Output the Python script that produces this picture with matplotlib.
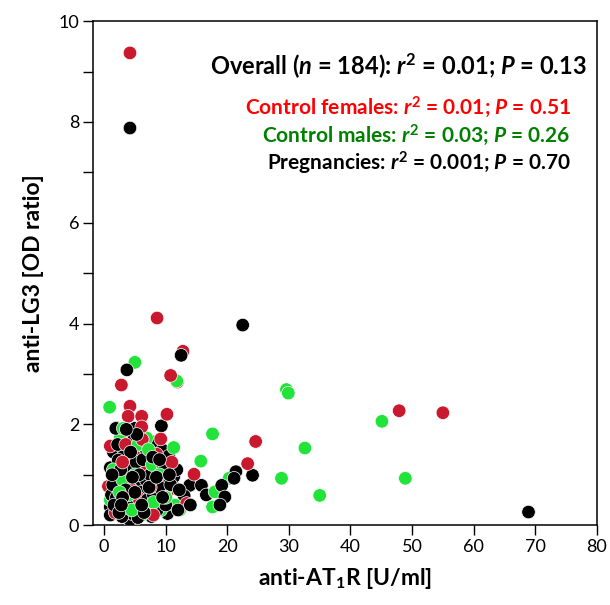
# -*- coding:utf-8 -*-
import matplotlib
matplotlib.use('Agg')
import matplotlib.pyplot as plt

plt.rcParams['font.family'] = ['Lato', 'DejaVu Sans']
plt.rcParams['mathtext.fontset'] = 'custom'
plt.rcParams['mathtext.rm'] = 'Lato:bold'
plt.rcParams['mathtext.it'] = 'Lato:bold:italic'
plt.rcParams['mathtext.bf'] = 'Lato:bold'

# control females
fem_x = [11.9, 12.8, 4.2, 8.6, 10.8, 2.8, 4.2, 3.9, 6.1, 10.2, 6.1, 9.2, 1.0, 8.5, 5.6,
         3.9, 0.7, 3.1, 8.3, 10.2, 9.9, 13.4, 14.6, 23.3, 24.6, 47.9, 55.0,
         2.5, 4.8, 7.0, 5.5, 2.2, 6.8, 9.5, 3.5, 7.5, 1.8, 4.5, 8.0, 11.0, 6.2, 3.0]
fem_y = [2.84, 3.45, 9.37, 4.11, 2.97, 2.78, 2.36, 2.16, 2.16, 2.20, 1.95, 1.71, 1.57, 1.41, 1.22,
         0.93, 0.77, 0.33, 0.50, 0.66, 0.69, 0.43, 1.01, 1.22, 1.66, 2.27, 2.23,
         1.05, 1.40, 1.10, 0.55, 0.45, 0.30, 1.20, 1.60, 0.75, 0.25, 0.70, 0.20, 1.25, 1.70, 1.25]

# control males
male_x = [5.0, 11.8, 0.9, 3.4, 2.6, 6.9, 3.2, 11.3, 15.7, 17.6, 20.3, 18.0, 17.6, 12.3,
          11.5, 9.2, 6.1, 6.6, 6.6, 8.8, 1.0, 29.6, 29.9, 45.1, 32.6, 28.8, 48.9, 35.0,
          3.1, 1.5, 4.0, 5.0, 7.8, 2.0, 9.0, 5.5, 3.0, 8.0, 4.5, 10.0, 2.5, 7.2]
male_y = [3.23, 2.86, 2.34, 1.85, 1.73, 1.73, 1.51, 1.54, 1.27, 1.81, 0.93, 0.66, 0.36, 0.30,
          0.40, 0.30, 0.20, 0.86, 0.56, 0.69, 0.50, 2.69, 2.62, 2.06, 1.53, 0.93, 0.93, 0.59,
          1.92, 1.10, 0.60, 1.00, 1.20, 0.30, 1.00, 1.60, 0.90, 0.45, 0.30, 0.55, 0.65, 1.50]

# pregnancies
preg_x = [4.2, 22.5, 12.5, 3.7, 2.0, 5.0, 9.3, 4.2, 8.0, 1.5, 7.2, 9.5, 10.5, 1.0, 1.0,
          1.0, 4.2, 7.7, 13.9, 15.8, 16.6, 13.0, 11.3, 11.5, 10.3, 24.1, 21.4, 21.1, 19.1,
          19.6, 18.8, 68.9, 3.1, 2.3, 4.5, 2.6, 6.6, 2.6, 5.6, 3.7, 4.5, 2.9, 5.8, 7.7,
          8.8, 9.3, 4.9, 6.9, 1.9,
          1.2, 1.8, 2.2, 3.3, 3.8, 4.0, 4.8, 5.2, 5.5, 6.0, 6.3, 6.8, 7.0, 7.5, 8.0, 8.3,
          8.6, 9.0, 9.8, 10.0, 10.8, 11.8, 12.2, 1.4, 2.0, 2.7, 3.5, 4.3, 5.0, 5.7, 6.5,
          7.3, 8.5, 9.5, 1.6, 2.4, 3.0, 4.6, 6.1, 7.9, 5.3, 3.6, 1.3, 9.0, 12.0, 14.0,
          10.6, 2.8]
preg_y = [7.88, 3.97, 3.37, 3.08, 1.93, 1.92, 1.97, 1.73, 1.65, 1.45, 1.45, 1.49, 1.37, 1.14, 0.36,
          0.20, 0.10, 0.17, 0.79, 0.79, 0.60, 0.58, 0.96, 0.73, 0.23, 0.99, 1.06, 0.93, 0.79,
          0.56, 0.40, 0.26, 1.36, 1.29, 1.06, 0.96, 1.06, 0.76, 0.79, 0.50, 0.23, 0.17, 0.43, 0.36,
          1.06, 0.86, 1.72, 1.45, 1.92,
          0.60, 0.90, 1.60, 0.35, 1.15, 0.85, 0.45, 1.25, 0.15, 0.65, 1.30, 0.90, 0.50, 1.00, 0.60, 1.25,
          0.30, 0.75, 1.10, 0.40, 0.80, 1.10, 0.70, 0.80, 0.55, 1.10, 0.70, 1.45, 0.65, 1.00, 0.25,
          0.75, 0.95, 0.55, 0.40, 0.25, 0.55, 0.95, 0.40, 1.35, 1.80, 1.90, 1.00, 1.30, 0.30, 0.40,
          1.00, 0.40]

stats = ['Overall ($n$ = 184): $r^{\\mathrm{2}}$ = 0.01; $P$ = 0.13',
         'Control females: $r^{\\mathrm{2}}$ = 0.01; $P$ = 0.51',
         'Control males: $r^{\\mathrm{2}}$ = 0.03; $P$ = 0.26',
         'Pregnancies: $r^{\\mathrm{2}}$ = 0.001; $P$ = 0.70']
stat_colors = ['black', '#FF0000', '#008000', 'black']

red = '#C8192E'
green = '#22E33A'

# mix the groups so that draw order is interleaved (like the original sample order)
px, py, pc = [], [], []
n = max(len(fem_x), len(male_x))
for i in range(n + 10):
    if i < len(fem_x):
        px.append(fem_x[i]); py.append(fem_y[i]); pc.append(red)
    for j in (2 * i, 2 * i + 1):
        if j < len(preg_x):
            px.append(preg_x[j]); py.append(preg_y[j]); pc.append('black')
    if i < len(male_x):
        px.append(male_x[i]); py.append(male_y[i]); pc.append(green)

fig = plt.figure(figsize=(6.1, 6.05), dpi=100)
ax = fig.add_axes([0.1525, 0.132, 0.826, 0.833])

ax.scatter(px, py, s=95, c=pc, edgecolors='white', linewidths=0.5, zorder=3)

ax.set_xlim(-1.8, 80)
ax.set_ylim(0, 10)
ax.set_xticks(range(0, 81, 10))
ax.set_yticks(range(0, 11, 2))
ax.set_yticks(range(1, 10, 2), minor=True)
ax.tick_params(which='both', direction='out', length=7, width=1, labelsize=13, pad=3)
for sp in ax.spines.values():
    sp.set_linewidth(1.1)

ax.set_xlabel('anti-AT$_{\\mathrm{1}}$R [U/ml]', fontsize=16.5, fontweight='bold', labelpad=8)
ax.set_ylabel('anti-LG3 [OD ratio]', fontsize=16.5, fontweight='bold', labelpad=10)

ax.text(0.98, 0.91, stats[0], transform=ax.transAxes, ha='right', va='center',
        fontsize=17, fontweight='bold', color=stat_colors[0])
ypos = [0.828, 0.773, 0.718]
for i in range(1, 4):
    ax.text(0.948, ypos[i - 1], stats[i], transform=ax.transAxes, ha='right', va='center',
            fontsize=15, fontweight='bold', color=stat_colors[i])

plt.savefig('out.png', dpi=100)
